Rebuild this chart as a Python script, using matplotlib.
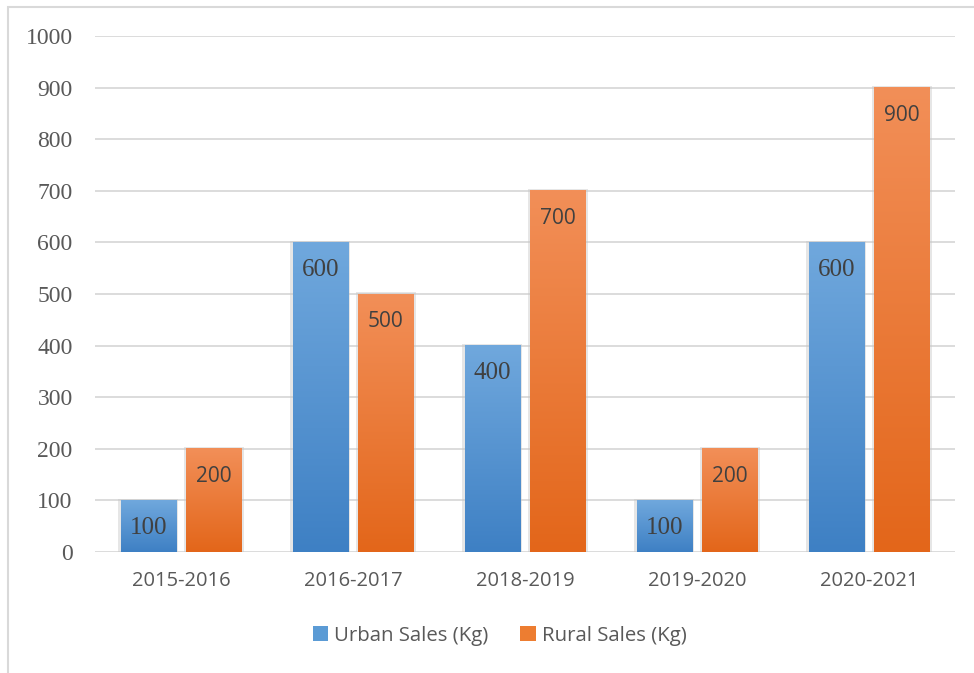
import matplotlib.pyplot as plt
import numpy as np
from matplotlib.colors import LinearSegmentedColormap
from matplotlib.patches import Rectangle, Patch

years = ['2015-2016', '2016-2017', '2018-2019', '2019-2020', '2020-2021']
urban = [100, 600, 400, 100, 600]
rural = [200, 500, 700, 200, 900]
yticks = list(range(0, 1001, 100))

text_col = '#595959'
blue_cmap = LinearSegmentedColormap.from_list('b', ['#3e80c4', '#70a8dd'])
orange_cmap = LinearSegmentedColormap.from_list('o', ['#e3661a', '#f28f58'])

fig = plt.figure(figsize=(9.74, 6.73), dpi=100)
ax = fig.add_axes([0.0975, 0.18, 0.883, 0.7665])

# outer chart border
fig.patches.append(Rectangle((0.008, -0.1), 1.2, 1.09, transform=fig.transFigure,
                             fill=False, edgecolor='#d9d9d9', linewidth=1.5))

x = np.arange(len(years))
width = 0.32
offset = 0.19
grad = np.linspace(0, 1, 256).reshape(-1, 1)


def gradient_bar(xc, h, cmap):
    # soft shadow at the sides
    ax.add_patch(Rectangle((xc - width / 2 - 0.014, 0), width + 0.028, h + 3,
                           facecolor='#c8c8c8', alpha=0.45, edgecolor='none', zorder=2))
    ax.imshow(grad, cmap=cmap, origin='lower', aspect='auto',
              extent=(xc - width / 2, xc + width / 2, 0, h), zorder=3)


for i in range(len(years)):
    gradient_bar(x[i] - offset, urban[i], blue_cmap)
    gradient_bar(x[i] + offset, rural[i], orange_cmap)
    ax.annotate(str(urban[i]), (x[i] - offset, urban[i]), xytext=(0, -20),
                textcoords='offset points', ha='center', va='center',
                fontsize=18, fontfamily='Liberation Serif', color='#404040', zorder=4)
    ax.annotate(str(rural[i]), (x[i] + offset, rural[i]), xytext=(0, -20),
                textcoords='offset points', ha='center', va='center',
                fontsize=15, fontfamily='Open Sans', color='#404040', zorder=4)

ax.set_xlim(-0.5, len(years) - 0.5)
ax.set_ylim(0, 1000)
ax.set_yticks(yticks, labels=[str(v) for v in yticks], fontfamily='Liberation Serif',
              fontsize=17, color=text_col)
ax.set_xticks(x, labels=years, fontfamily='Open Sans', fontsize=14.5, color=text_col)
ax.tick_params(axis='x', pad=14, length=0)
ax.tick_params(axis='y', pad=16, length=0)
ax.grid(axis='y', color='#d9d9d9', linewidth=1.3, zorder=0)
ax.set_axisbelow(True)
for s in ax.spines.values():
    s.set_visible(False)

handles = [Patch(facecolor='#5b9bd5', label='Urban Sales (Kg)'),
           Patch(facecolor='#ed7d31', label='Rural Sales (Kg)')]
leg = fig.legend(handles=handles, loc='center', bbox_to_anchor=(0.513, 0.055), ncol=2,
                 frameon=False, handlelength=0.75, handleheight=0.75, handletextpad=0.3,
                 columnspacing=1.55, prop={'family': 'Open Sans', 'size': 14.7})
for t in leg.get_texts():
    t.set_color(text_col)

fig.savefig('out.png', dpi=100)
